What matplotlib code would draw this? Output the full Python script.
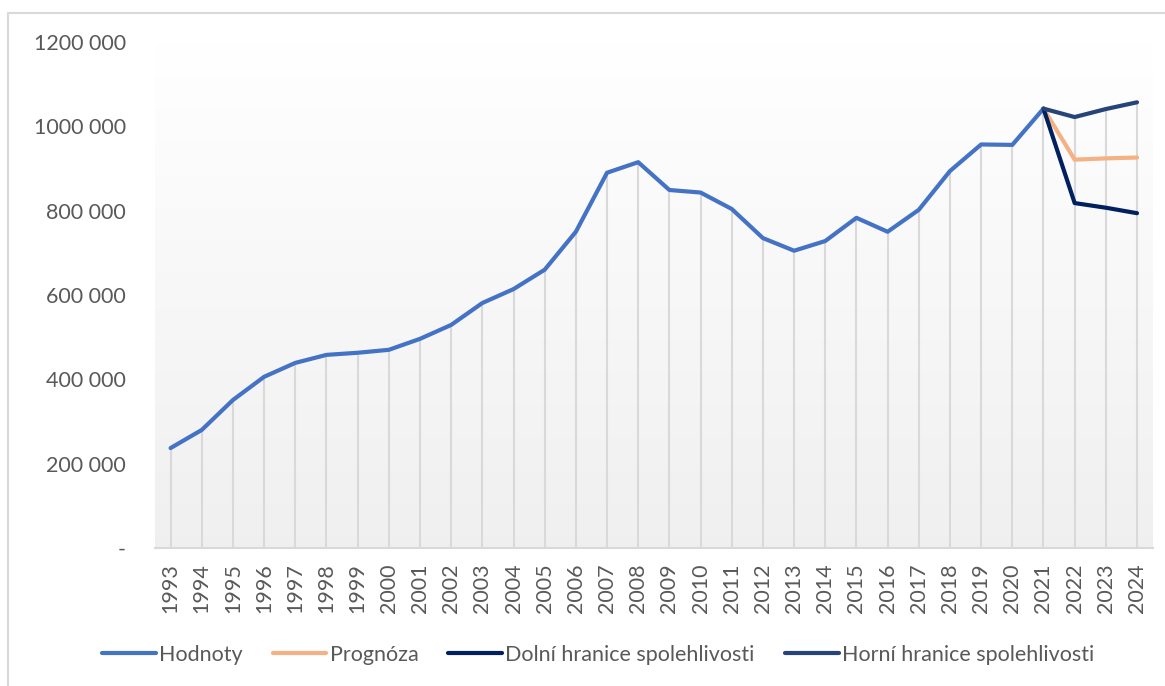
import matplotlib
matplotlib.use("Agg")
import matplotlib.pyplot as plt
import numpy as np
from matplotlib.lines import Line2D

years = [str(y) for y in range(1993, 2025)]
hodnoty = [237000, 280000, 351000, 406000, 439000, 458000, 463000, 470000,
           496000, 529000, 581000, 614000, 660000, 750000, 890000, 915000,
           849000, 843000, 804000, 735000, 705000, 728000, 783000, 750000,
           802000, 894000, 957000, 956000, 1042000]
prognoza_years = ["2021", "2022", "2023", "2024"]
prognoza = [1042000, 921000, 924000, 926000]
dolni = [1042000, 818000, 807000, 794000]
horni = [1042000, 1022000, 1041000, 1057000]

yticks = [0, 200000, 400000, 600000, 800000, 1000000, 1200000]
ytick_labels = ["-", "200 000", "400 000", "600 000", "800 000", "1000 000", "1200 000"]

plt.rcParams['font.family'] = ['Lato', 'DejaVu Sans']
txt = '#595959'
fs = 15.5

fig = plt.figure(figsize=(11.65, 6.86), dpi=100)
ax = fig.add_axes([155/1165, 1-548/686, (1152.6-155)/1165, (548-42)/686])

xpos = {y: i for i, y in enumerate(years)}
xh = [xpos[y] for y in years[:len(hodnoty)]]
xp = [xpos[y] for y in prognoza_years]

ax.set_xlim(-0.5, len(years) - 0.5)
ax.set_ylim(0, 1200000)

# gradient background
grad = np.linspace(1.0, 0.94, 256).reshape(-1, 1)
ax.imshow(np.dstack([grad, grad, grad]), extent=[-0.5, len(years) - 0.5, 0, 1200000],
          aspect='auto', zorder=0, origin='upper')

# drop lines to max of series
maxvals = {}
for x, v in zip(xh, hodnoty):
    maxvals[x] = max(maxvals.get(x, 0), v)
for series in (prognoza, dolni, horni):
    for x, v in zip(xp, series):
        maxvals[x] = max(maxvals.get(x, 0), v)
ax.vlines(list(maxvals.keys()), 0, list(maxvals.values()), colors='#d9d9d9', lw=1.5, zorder=1)

ax.plot(xh, hodnoty, color='#4472C4', lw=3, zorder=3, solid_capstyle='round', solid_joinstyle='round')
ax.plot(xp, prognoza, color='#F4B183', lw=3, zorder=3, solid_capstyle='round', solid_joinstyle='round')
ax.plot(xp, dolni, color='#002060', lw=3, zorder=3, solid_capstyle='round', solid_joinstyle='round')
ax.plot(xp, horni, color='#264478', lw=3, zorder=3, solid_capstyle='round', solid_joinstyle='round')

for s in ['top', 'right', 'left']:
    ax.spines[s].set_visible(False)
ax.spines['bottom'].set_color('#d9d9d9')
ax.spines['bottom'].set_linewidth(1.5)
ax.spines['bottom'].set_zorder(2)

ax.set_xticks(range(len(years)))
ax.set_xticklabels(years, rotation=90, fontsize=fs, color=txt)
ax.set_yticks(yticks)
ax.set_yticklabels(ytick_labels, fontsize=fs, color=txt)
ax.tick_params(axis='both', length=0)
ax.tick_params(axis='x', pad=11)
ax.tick_params(axis='y', pad=21)

handles = [Line2D([], [], color=c, lw=3, solid_capstyle='round') for c in
           ['#4472C4', '#F4B183', '#002060', '#264478']]
labels = ['Hodnoty', 'Prognóza', 'Dolní hranice spolehlivosti', 'Horní hranice spolehlivosti']
leg = fig.legend(handles, labels, loc='center', bbox_to_anchor=(598/1165, 1-655/686), ncol=4,
                 frameon=False, fontsize=fs, handlelength=2.5, handletextpad=0.15,
                 columnspacing=1.4)
for t in leg.get_texts():
    t.set_color(txt)

# outer border (top and left visible)
fig.add_artist(Line2D([8/1165, 8/1165], [0, 1-13/686], transform=fig.transFigure, color='#d9d9d9', lw=1.5))
fig.add_artist(Line2D([8/1165, 1], [1-13/686, 1-13/686], transform=fig.transFigure, color='#d9d9d9', lw=1.5))

fig.savefig('out.png', dpi=100, facecolor='white')
